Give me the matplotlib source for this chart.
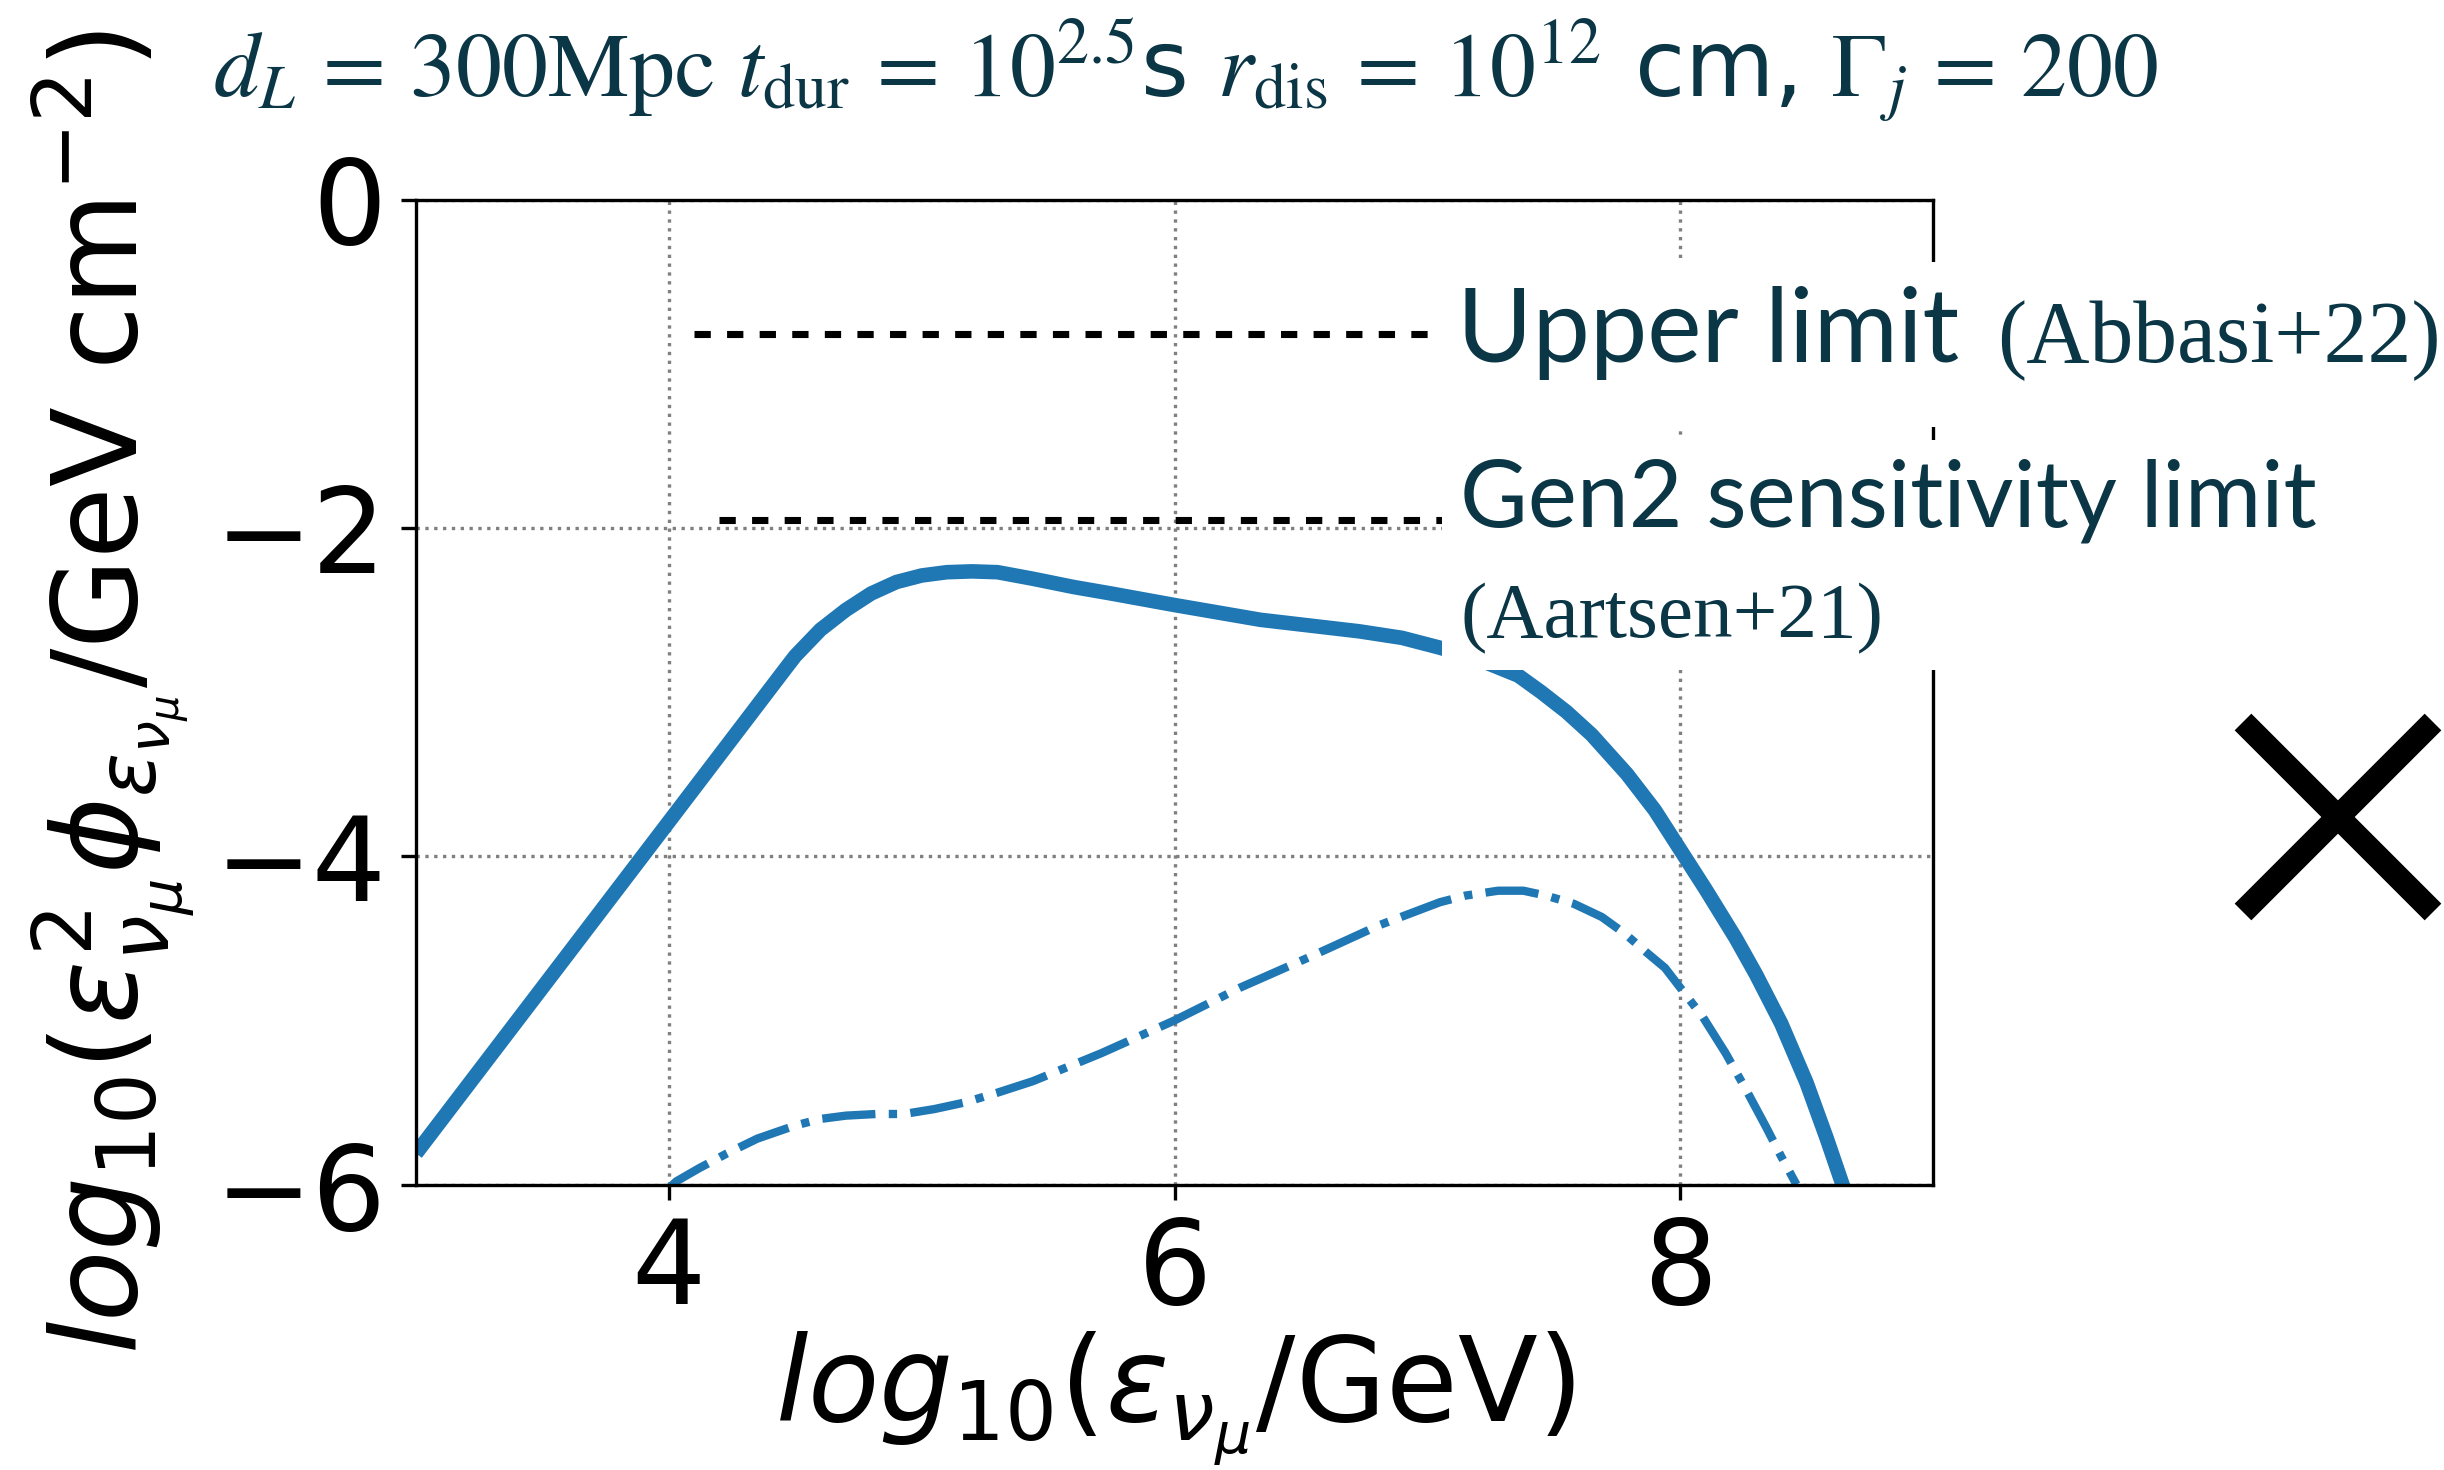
import matplotlib
matplotlib.use("Agg")
import matplotlib.pyplot as plt
from matplotlib.patches import Rectangle
from matplotlib.lines import Line2D

# ---- data ----
total_x = [3.00, 4.00, 4.46, 4.50, 4.60, 4.70, 4.80, 4.90, 5.00, 5.10, 5.20, 5.30, 5.44,
           5.60, 5.75, 6.00, 6.34, 6.73, 6.90, 7.05, 7.20, 7.36, 7.45, 7.55, 7.65, 7.79,
           7.90, 8.00, 8.10, 8.22, 8.30, 8.40, 8.50, 8.58, 8.66]
total_y = [-5.81, -3.79, -2.86, -2.78, -2.62, -2.50, -2.40, -2.33, -2.29, -2.27, -2.265,
           -2.27, -2.31, -2.36, -2.40, -2.47, -2.56, -2.63, -2.67, -2.73, -2.80, -2.90,
           -3.00, -3.12, -3.26, -3.50, -3.72, -3.96, -4.20, -4.50, -4.72, -5.02, -5.38,
           -5.72, -6.08]

comp_x = [3.98, 4.03, 4.12, 4.23, 4.35, 4.50, 4.60, 4.70, 4.82, 4.93, 5.05, 5.17, 5.30,
          5.44, 5.71, 6.00, 6.26, 6.54, 6.81, 7.05, 7.15, 7.28, 7.38, 7.47, 7.58, 7.69,
          7.78, 7.87, 7.94, 8.00, 8.09, 8.18, 8.26, 8.34, 8.40, 8.46]
comp_y = [-6.05, -5.98, -5.90, -5.81, -5.72, -5.64, -5.60, -5.58, -5.57, -5.57, -5.54,
          -5.50, -5.44, -5.37, -5.20, -5.00, -4.80, -4.61, -4.42, -4.28, -4.24, -4.21,
          -4.21, -4.24, -4.29, -4.37, -4.47, -4.59, -4.68, -4.80, -4.98, -5.20, -5.42,
          -5.65, -5.83, -6.00]

upper_x = [4.10, 7.60]
upper_y = [-0.82, -0.82]
gen2_x = [4.20, 7.60]
gen2_y = [-1.95, -1.95]

xticks = [4, 6, 8]
yticks = [0, -2, -4, -6]

TEAL = '#0a3646'
BLUE = '#1f77b4'

W, H = 2444, 1470
DPI = 300
fig = plt.figure(figsize=(W / DPI, H / DPI), dpi=DPI)

def fx(px):
    return px / W

def fy(py):
    return 1 - py / H

ax = fig.add_axes([fx(416), fy(1184.6), (1933 - 416) / W, (1184.6 - 199.5) / H])

ax.plot(total_x, total_y, color=BLUE, lw=3.5, solid_capstyle='butt', solid_joinstyle='round', zorder=2)
ax.plot(comp_x, comp_y, color=BLUE, lw=2.0, linestyle='-.', zorder=2)
ax.plot(upper_x, upper_y, color='black', lw=1.7, linestyle=(0, (2.3, 2.3)), zorder=3)
ax.plot(gen2_x, gen2_y, color='black', lw=1.7, linestyle=(0, (2.3, 2.3)), zorder=3)

ax.set_xlim(3, 9)
ax.set_ylim(-6, 0)
ax.set_xticks(xticks)
ax.set_yticks(yticks)
ax.tick_params(labelsize=28)
ax.grid(True, linestyle=':', color='gray', lw=0.8)

ax.set_xlabel(r'$log_{10}(\epsilon_{\nu_\mu}$/GeV)', fontsize=28, labelpad=0)
ax.set_ylabel(r'$log_{10}(\epsilon^2_{\nu_\mu}\phi_{\epsilon_{\nu_\mu}}$/GeV cm$^{-2}$)', fontsize=28)

ax.set_title(r'$d_L\,=\,300{\rm Mpc}\ t_{\rm dur}\,=\,10^{2.5}$s $r_{\rm dis}\,=\,10^{12}$ cm, '
             r'$\Gamma_j\,=\,200$',
             fontsize=22, color=TEAL, math_fontfamily='stix', y=(1184.6 - 97) / 985, pad=0,
             va='baseline', x=(1185 - 416) / 1517)

# white boxes behind the annotations
for (x0, y0, x1, y1) in [(1434, 262, 2444, 427), (1442, 440, 2444, 670)]:
    r = Rectangle((fx(x0), fy(y1)), fx(x1) - fx(x0), fy(y0) - fy(y1), transform=fig.transFigure,
                  facecolor='white', edgecolor='none', clip_on=False, zorder=10)
    ax.add_patch(r)

fig.text(fx(1457), fy(362), 'Upper limit', fontsize=24.6, family='Lato', color=TEAL, va='baseline', zorder=11)
fig.text(fx(1997), fy(362), '(Abbasi+22)', fontsize=21, family='Liberation Serif', color=TEAL,
         va='baseline', zorder=11)
fig.text(fx(1460), fy(527), 'Gen2 sensitivity limit', fontsize=22.3, family='Lato', color=TEAL,
         va='baseline', zorder=11)
fig.text(fx(1460), fy(637), '(Aartsen+21)', fontsize=19, family='Liberation Serif', color=TEAL,
         va='baseline', zorder=11)

# big cross mark on the right
for (a, b) in [((2243, 722), (2433, 912)), ((2243, 912), (2433, 722))]:
    fig.add_artist(Line2D([fx(a[0]), fx(b[0])], [fy(a[1]), fy(b[1])], transform=fig.transFigure,
                          color='black', lw=5.66, solid_capstyle='butt'))

fig.savefig('out.png', dpi=DPI)
